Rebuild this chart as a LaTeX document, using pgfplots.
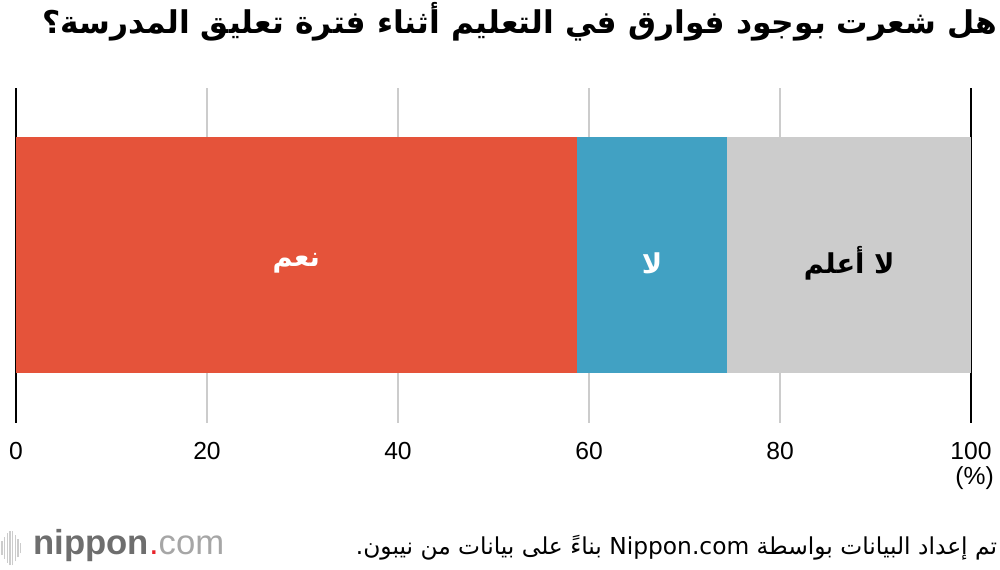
\documentclass[border=0pt]{standalone}
\usepackage{fontspec}
\setmainfont{Liberation Sans}
\newfontfamily\arabicfont[Script=Arabic]{DejaVu Sans}
\usepackage{pgfplots}
\pgfplotsset{compat=1.18}
\TeXXeTstate=1
\definecolor{yesred}{HTML}{E5533A}
\definecolor{noblue}{HTML}{41A1C3}
\definecolor{dkgray}{HTML}{CCCCCC}
\definecolor{logogray}{HTML}{6E6E6E}
\definecolor{logored}{HTML}{E8232A}
\begin{document}
\begin{tikzpicture}
\useasboundingbox (0,0) rectangle (750pt,427.5pt);
% title
\node[anchor=east, inner sep=0pt, font=\arabicfont\bfseries\fontsize{23.5}{28}\selectfont]
  at (748pt,411pt) {\beginR هل شعرت بوجود فوارق في التعليم أثناء فترة تعليق المدرسة؟\endR};
\begin{axis}[
    at={(12pt,110.25pt)}, anchor=south west,
    scale only axis,
    width=716.25pt, height=251.25pt,
    xmin=0, xmax=100, ymin=0, ymax=1,
    xbar stacked,
    bar width=177pt,
    axis line style={draw=none},
    major tick length=0pt,
    ytick=\empty,
    xtick={20,40,60,80},
    extra x ticks={0,100},
    extra x tick style={grid style={black, line width=1.5pt}},
    xmajorgrids=true,
    grid style={dkgray, line width=1.5pt},
    /pgf/number format/assume math mode=true,
    xticklabel style={font=\fontsize{18.5}{20}\selectfont, anchor=north, yshift=-11pt},
    clip=false,
]
\addplot[fill=yesred, draw=none] coordinates {(58.7,0.5)};
\addplot[fill=noblue, draw=none] coordinates {(15.8,0.5)};
\addplot[fill=dkgray, draw=none] coordinates {(25.5,0.5)};
\coordinate (lyes) at (axis cs:29.35,0.5);
\coordinate (lno) at (axis cs:66.6,0.5);
\coordinate (ldk) at (axis cs:87.25,0.5);
\end{axis}
\tikzset{barlab/.style={font=\arabicfont\bfseries\fontsize{20.5}{24}\selectfont, yshift=-6pt}}
\node[barlab, text=white] at (lyes) {\beginR نعم\endR};
\node[barlab, text=white] at (lno) {\beginR لا\endR};
\node[barlab, text=black] at (ldk) {\beginR لا أعلم\endR};
\node[font=\fontsize{18.5}{20}\selectfont] at (731pt,69pt) {(\%)};
% footer
\node[anchor=east, inner sep=0pt, font=\arabicfont\fontsize{17.5}{20}\selectfont]
  at (748pt,16.5pt) {\beginR تم إعداد البيانات بواسطة \beginL Nippon.com\endL{} بناءً على بيانات من نيبون.\endR};
% logo
\foreach \xx/\hh in {1.5/5,3.5/8,5.5/11,7.5/13,9.5/13,11.5/10,13.5/7,15.5/4}
  \draw[dkgray, line width=0.9pt] (\xx pt,{16.5pt-\hh pt}) -- (\xx pt,{16.5pt+\hh pt});
\node[anchor=west, inner sep=0pt, text=logogray, font=\fontsize{26}{29}\selectfont]
  at (25pt,18pt) {\textbf{nippon}\textcolor{logored}{.}{\color{gray!70}com}};
\end{tikzpicture}
\end{document}
